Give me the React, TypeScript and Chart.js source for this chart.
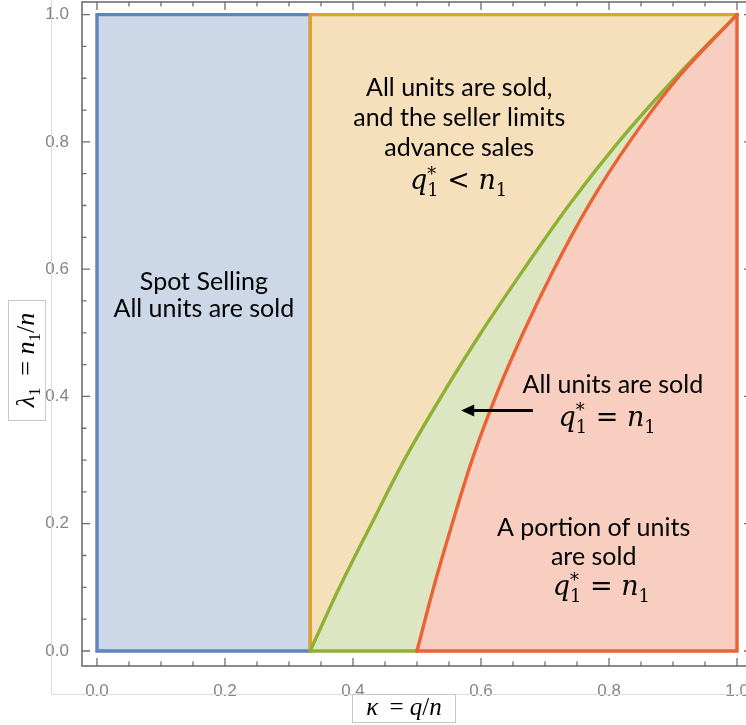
import React, { useEffect, useRef } from "react";
import { Chart, registerables } from "chart.js";

Chart.register(...registerables);

// ---------- data ----------
const LAMBDA = [0, 0.1, 0.2, 0.3, 0.4, 0.5, 0.6, 0.7, 0.8, 0.9, 1.0];
// kappa of the green boundary (upper edge of green region) at each lambda
const GREEN_KAPPA = [0.333, 0.379, 0.429, 0.48, 0.538, 0.6, 0.667, 0.737, 0.815, 0.903, 1.0];
// kappa of the red boundary (upper edge of red region) at each lambda
const RED_KAPPA = [0.5, 0.526, 0.555, 0.586, 0.623, 0.666, 0.714, 0.768, 0.832, 0.907, 1.0];
const SPOT_KAPPA = 1 / 3;
const RED_START = 0.5;

const X_TICKS = [0, 0.2, 0.4, 0.6, 0.8, 1.0];
const Y_TICKS = [0, 0.2, 0.4, 0.6, 0.8, 1.0];
const MINOR_TICKS = Array.from({ length: 21 }, (_, i) => i * 0.05);

const X_MIN = -0.0234, X_MAX = 1.0234;
const Y_MIN = -0.0236, Y_MAX = 1.0198;

// colours
const C = {
  blueFill: "#ccd8e7", blueLine: "#5e83bd",
  orangeFill: "#f6e0bb", orangeLine: "#e4a02a",
  greenFill: "#dde6c2", greenLine: "#8db134",
  redFill: "#f8cec1", redLine: "#eb6235",
};

const TEXT_FONT = "Lato";
const MATH_FONT = "'DejaVu Serif'";
const TITLE_FONT = "'Liberation Serif'";

// region labels (data coordinates of line centres)
const LABELS: { lines: string[]; x: number; y: number[] }[] = [
  { lines: ["Spot Selling", "All units are sold"], x: 0.167, y: [0.58, 0.538] },
  { lines: ["All units are sold,", "and the seller limits", "advance sales"], x: 0.566, y: [0.885, 0.838, 0.79] },
  { lines: ["All units are sold"], x: 0.806, y: [0.418] },
  { lines: ["A portion of units", "are sold"], x: 0.776, y: [0.194, 0.147] },
];

type Piece = { t: string; it?: boolean; sub?: boolean; sup?: boolean };

const MATH_LT: Piece[] = [{ t: "q", it: true }, { t: "*", sup: true }, { t: "1", sub: true }, { t: " < " }, { t: "n", it: true }, { t: "1", sub: true }];
const MATH_EQ: Piece[] = [{ t: "q", it: true }, { t: "*", sup: true }, { t: "1", sub: true }, { t: " = " }, { t: "n", it: true }, { t: "1", sub: true }];
const FORMULAS = [
  { pieces: MATH_LT, x: 0.565, y: 0.738 },
  { pieces: MATH_EQ, x: 0.797, y: 0.366 },
  { pieces: MATH_EQ, x: 0.788, y: 0.1 },
];
const ARROW = { from: 0.681, to: 0.569, y: 0.378 };

const Y_TITLE: Piece[] = [{ t: "λ", it: true }, { t: "1", sub: true }, { t: " \u2009= " }, { t: "n", it: true }, { t: "1", sub: true }, { t: "/" }, { t: "n", it: true }];
const X_TITLE: Piece[] = [{ t: "κ", it: true }, { t: " \u2009= " }, { t: "q", it: true }, { t: "/" }, { t: "n", it: true }];

function drawMath(ctx: CanvasRenderingContext2D, pieces: Piece[], cx: number, cy: number, size: number, family: string) {
  const sub = size * 0.66;
  const items: { t: string; font: string; x: number; dy: number }[] = [];
  let x = 0;
  let scriptX = 0;
  for (const p of pieces) {
    const s = p.sub || p.sup ? sub : size;
    const font = `${p.it ? "italic " : ""}${s}px ${family}`;
    ctx.font = font;
    const w = ctx.measureText(p.t).width;
    if (p.sub || p.sup) {
      const dy = p.sup ? -size * 0.36 : size * 0.24;
      items.push({ t: p.t, font, x: scriptX, dy });
      x = Math.max(x, scriptX + w);
    } else {
      items.push({ t: p.t, font, x, dy: 0 });
      x += w;
      scriptX = x;
    }
  }
  const total = x;
  ctx.textBaseline = "alphabetic";
  ctx.textAlign = "left";
  for (const it of items) {
    ctx.font = it.font;
    ctx.fillText(it.t, cx - total / 2 + it.x, cy + size * 0.3 + it.dy);
  }
}

const decor = {
  id: "decor",
  afterDraw(chart: any) {
    const { ctx, chartArea: a } = chart;
    const xs = chart.scales.x, ys = chart.scales.y;
    ctx.save();
    // faint figure borders
    ctx.strokeStyle = "#dcdcdc";
    ctx.lineWidth = 1;
    ctx.beginPath();
    ctx.moveTo(51.5, 0); ctx.lineTo(51.5, 694);
    ctx.moveTo(51, 694.5); ctx.lineTo(chart.width, 694.5);
    ctx.stroke();
    // frame
    ctx.strokeStyle = "#6e6e6e";
    ctx.lineWidth = 1.6;
    ctx.strokeRect(a.left, a.top, a.right - a.left, a.bottom - a.top);
    // inward ticks
    ctx.lineWidth = 1.3;
    ctx.beginPath();
    for (const v of MINOR_TICKS) {
      const major = Math.abs(v * 5 - Math.round(v * 5)) < 1e-6;
      const L = major ? 8 : 4.5;
      const px = xs.getPixelForValue(v);
      ctx.moveTo(px, a.bottom); ctx.lineTo(px, a.bottom - L);
      ctx.moveTo(px, a.top); ctx.lineTo(px, a.top + L);
      const py = ys.getPixelForValue(v);
      ctx.moveTo(a.left, py); ctx.lineTo(a.left + L, py);
      ctx.moveTo(a.right, py); ctx.lineTo(a.right - L, py);
    }
    ctx.stroke();

    // axis title boxes
    ctx.strokeStyle = "#c8c8c8";
    ctx.lineWidth = 1;
    ctx.fillStyle = "#fff";
    ctx.fillRect(8.5, 300.5, 37, 120);
    ctx.strokeRect(8.5, 300.5, 37, 120);
    ctx.fillRect(352.5, 694.5, 103, 28);
    ctx.strokeRect(352.5, 694.5, 103, 28);
    ctx.fillStyle = "#000";
    ctx.save();
    ctx.translate(27, 360);
    ctx.rotate(-Math.PI / 2);
    drawMath(ctx, Y_TITLE, 0, -1, 26, TITLE_FONT);
    ctx.restore();
    drawMath(ctx, X_TITLE, 404, 707, 25, TITLE_FONT);

    // region labels
    ctx.fillStyle = "#000";
    ctx.textAlign = "center";
    ctx.textBaseline = "middle";
    ctx.font = `25px ${TEXT_FONT}`;
    for (const L of LABELS) {
      L.lines.forEach((s, i) => {
        ctx.fillText(s, xs.getPixelForValue(L.x), ys.getPixelForValue(L.y[i]));
      });
    }
    for (const f of FORMULAS) {
      drawMath(ctx, f.pieces, xs.getPixelForValue(f.x), ys.getPixelForValue(f.y), 27, MATH_FONT);
    }
    // arrow
    const ax0 = xs.getPixelForValue(ARROW.from), ax1 = xs.getPixelForValue(ARROW.to), ay = ys.getPixelForValue(ARROW.y);
    ctx.strokeStyle = "#000";
    ctx.lineWidth = 3;
    ctx.beginPath();
    ctx.moveTo(ax0, ay); ctx.lineTo(ax1 + 10, ay);
    ctx.stroke();
    ctx.beginPath();
    ctx.moveTo(ax1, ay);
    ctx.lineTo(ax1 + 13, ay - 6);
    ctx.lineTo(ax1 + 13, ay + 6);
    ctx.closePath();
    ctx.fill();
    ctx.restore();
  },
};

const pts = (xs: number[], ys: number[]) => xs.map((x, i) => ({ x, y: ys[i] }));

export default function App() {
  const ref = useRef<HTMLCanvasElement>(null);
  useEffect(() => {
    const base = { pointRadius: 0, pointHoverRadius: 0, tension: 0, borderCapStyle: "square", borderJoinStyle: "miter" };
    const W = 3.4;
    const chart = new Chart(ref.current!, {
      type: "line",
      data: {
        datasets: [
          // red outer edges
          { ...base, data: [{ x: 1, y: 1 }, { x: 1, y: 0 }, { x: RED_START, y: 0 }], borderColor: C.redLine, borderWidth: W, fill: false },
          // red curve + fill
          { ...base, data: pts(RED_KAPPA, LAMBDA), cubicInterpolationMode: "monotone", borderColor: C.redLine, borderWidth: W, backgroundColor: C.redFill, fill: "origin", borderCapStyle: "round" },
          // green bottom
          { ...base, data: [{ x: SPOT_KAPPA, y: 0 }, { x: RED_START, y: 0 }], borderColor: C.greenLine, borderWidth: W, fill: false },
          // green curve + fill
          { ...base, data: pts(GREEN_KAPPA, LAMBDA), cubicInterpolationMode: "monotone", borderColor: C.greenLine, borderWidth: W, backgroundColor: C.greenFill, fill: "origin", borderCapStyle: "round" },
          // orange edges
          { ...base, data: [{ x: SPOT_KAPPA, y: 0 }, { x: SPOT_KAPPA, y: 1 }, { x: 1, y: 1 }], borderColor: C.orangeLine, borderWidth: W, fill: false },
          // orange fill
          { ...base, data: [{ x: SPOT_KAPPA, y: 1 }, { x: 1, y: 1 }], borderWidth: 0, borderColor: "rgba(0,0,0,0)", backgroundColor: C.orangeFill, fill: "origin" },
          // blue edges
          { ...base, data: [{ x: 0, y: 0 }, { x: 0, y: 1 }, { x: SPOT_KAPPA, y: 1 }, { x: SPOT_KAPPA, y: 0 }, { x: 0, y: 0 }], borderColor: C.blueLine, borderWidth: W, fill: false },
          // blue fill
          { ...base, data: [{ x: 0, y: 1 }, { x: SPOT_KAPPA, y: 1 }], borderWidth: 0, borderColor: "rgba(0,0,0,0)", backgroundColor: C.blueFill, fill: "origin" },
        ] as any,
      },
      options: {
        animation: false,
        responsive: false,
        maintainAspectRatio: false,
        layout: { padding: { top: 2, right: 20, left: 0, bottom: 0 } },
        plugins: { legend: { display: false }, tooltip: { enabled: false } },
        events: [],
        scales: {
          x: {
            type: "linear", min: X_MIN, max: X_MAX,
            grid: { display: false }, border: { display: false },
            afterBuildTicks: (s: any) => { s.ticks = X_TICKS.map((v) => ({ value: v })); },
            afterFit: (s: any) => { s.height = 59; s.paddingLeft = 0; s.paddingRight = 0; },
            ticks: { color: "#858585", font: { family: "'Liberation Sans'", size: 17 }, padding: 7, maxRotation: 0, autoSkip: false, callback: (v: any) => Number(v).toFixed(1) },
          },
          y: {
            type: "linear", min: Y_MIN, max: Y_MAX,
            grid: { display: false }, border: { display: false },
            afterBuildTicks: (s: any) => { s.ticks = Y_TICKS.map((v) => ({ value: v })); },
            afterFit: (s: any) => { s.width = 82; s.paddingTop = 0; s.paddingBottom = 0; },
            ticks: { color: "#858585", font: { family: "'Liberation Sans'", size: 17 }, padding: 5, autoSkip: false, callback: (v: any) => Number(v).toFixed(1) },
          },
        },
      } as any,
      plugins: [decor],
    });
    return () => chart.destroy();
  }, []);
  return (
    <div style={{ position: "fixed", left: 0, top: 0, width: 772, height: 725, background: "#fff" }}>
      <canvas ref={ref} width={772} height={725} style={{ display: "block", width: 772, height: 725 }} />
    </div>
  );
}
